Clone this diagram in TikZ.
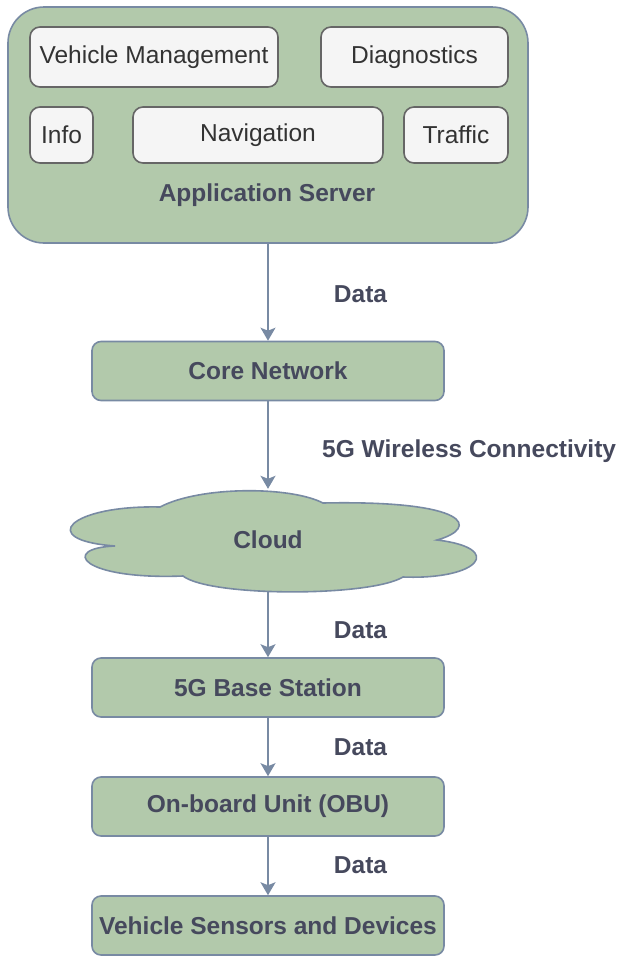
\documentclass[tikz,border=0pt]{standalone}
\usepackage{fontspec}
\setmainfont{Liberation Sans}
\usetikzlibrary{arrows.meta}
\definecolor{gfill}{HTML}{B2C9AB}
\definecolor{gstroke}{HTML}{788AA3}
\definecolor{gtext}{HTML}{46495D}
\definecolor{wfill}{HTML}{F5F5F5}
\definecolor{wstroke}{HTML}{666666}
\definecolor{wtext}{HTML}{333333}
\begin{document}
\begin{tikzpicture}[x=1pt,y=-1pt,
  font=\fontsize{24.5}{28}\selectfont,
  outerbox/.style={draw=gstroke, fill=gfill, line width=1.6pt, rounded corners=36pt, inner sep=0pt},
  innerbox/.style={draw=wstroke, fill=wfill, line width=1.6pt, rounded corners=10pt, text=wtext, inner sep=0pt},
  gbox/.style={draw=gstroke, fill=gfill, line width=1.6pt, rounded corners=9pt, text=gtext,
    font=\fontsize{24.5}{28}\selectfont\bfseries, minimum width=352pt, minimum height=59pt, inner sep=0pt},
  lbl/.style={text=gtext, font=\fontsize{24.5}{28}\selectfont\bfseries, inner sep=0pt},
  flow/.style={draw=gstroke, line width=1.6pt, -{Stealth[length=13pt,width=15pt,inset=3pt]}},
]
\useasboundingbox (0,0) rectangle (620,956);

% Application server
\node[outerbox, minimum width=520pt, minimum height=236pt] (app) at (268,125) {};
\node[innerbox, minimum width=248pt, minimum height=60pt] (vm) at (154,57) {Vehicle Management};
\node[innerbox, minimum width=187pt, minimum height=60pt] (diag) at (414.5,57) {Diagnostics};
\node[innerbox, minimum width=63pt, minimum height=56pt] (info) at (61.5,135) {Info};
\node[innerbox, minimum width=250pt, minimum height=56pt] (nav) at (258,135) {Navigation};
\node[innerbox, minimum width=104pt, minimum height=56pt] (traffic) at (456,135) {Traffic};
\node[lbl] (appname) at (267,195) {Application Server};

% Chain
\node[gbox] (core) at (268,371) {Core Network};

\path[draw=gstroke, fill=gfill, line width=1.6pt]
  (160,507) .. controls (70,505) and (35,540) .. (115,546)
  .. controls (60,548) and (80,580) .. (183,576)
  .. controls (210,597) and (370,597) .. (403,577)
  .. controls (480,580) and (505,548) .. (437,540)
  .. controls (480,528) and (470,500) .. (323,503)
  .. controls (290,486) and (200,486) .. (160,507) -- cycle;
\node[lbl, minimum height=102pt] (cloud) at (268,540) {Cloud};

\node[gbox] (bs) at (268,687.5) {5G Base Station};
\node[gbox] (obu) at (268,806.5) {On-board Unit (OBU)};
\node[gbox] (vs) at (268,925.5) {Vehicle Sensors and Devices};

\draw[flow] (app) -- (core);
\draw[flow] (core) -- (cloud.north);
\draw[flow] (cloud.south) -- (bs);
\draw[flow] (bs) -- (obu);
\draw[flow] (obu) -- (vs);

\node[lbl] (l1) at (360.5,294) {Data};
\node[lbl, anchor=west] (l2) at (322,451) {5G Wireless Connectivity};
\node[lbl] (l3) at (360.5,630) {Data};
\node[lbl] (l4) at (360.5,747) {Data};
\node[lbl] (l5) at (360.5,865) {Data};
\end{tikzpicture}
\end{document}
